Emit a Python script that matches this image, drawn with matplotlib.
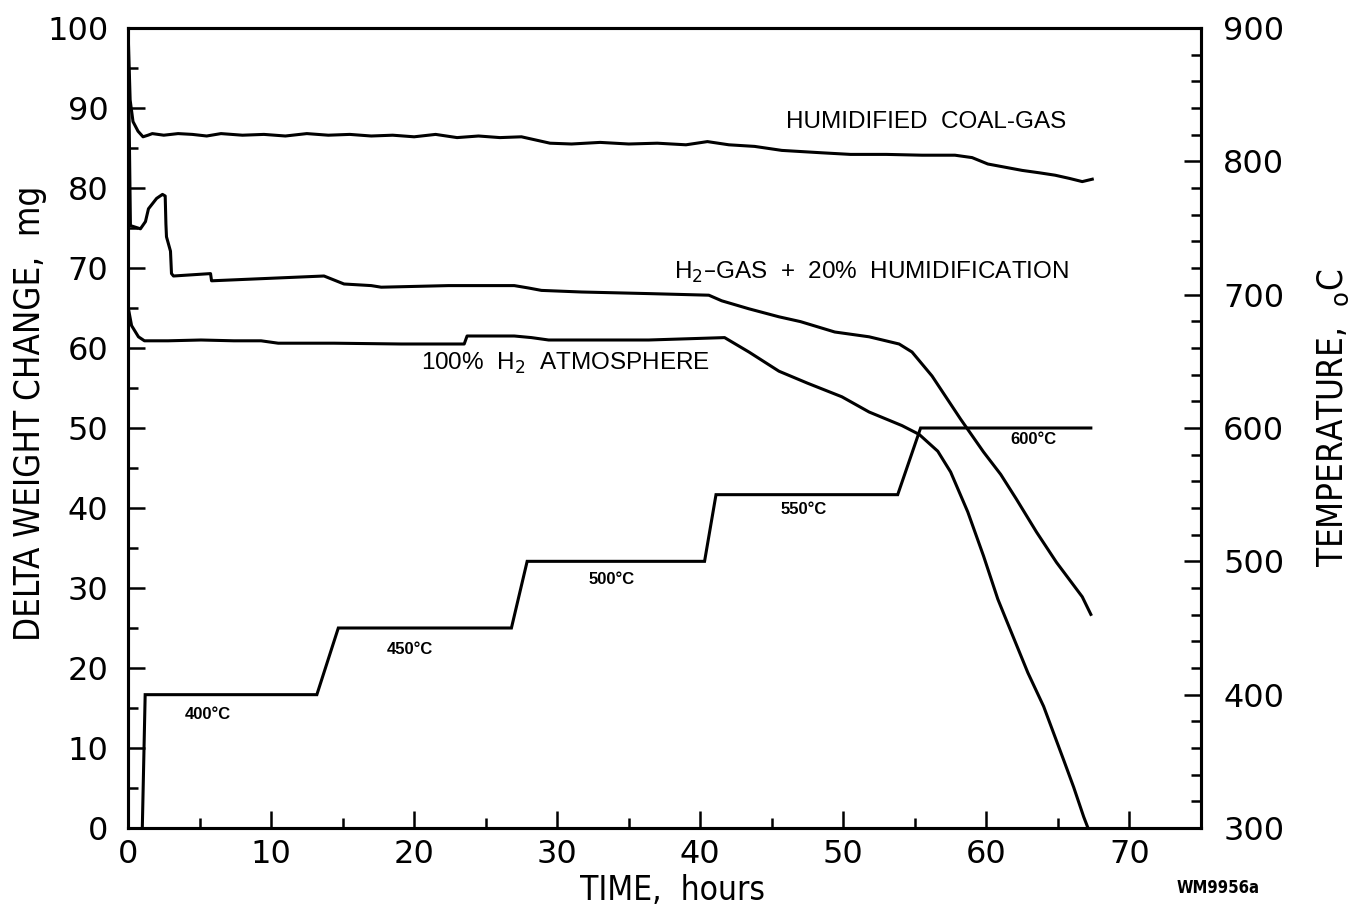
import matplotlib
matplotlib.use("Agg")
import matplotlib.pyplot as plt
from matplotlib import font_manager
from matplotlib.ticker import MultipleLocator

# ---- data -------------------------------------------------------------
# Humidified coal-gas weight change (mg) vs time (h)
coal_t = [0, 0.15, 0.35, 0.7, 1.05, 1.4, 1.7, 2.5, 3.5, 4.5, 5.5, 6.5, 8, 9.5,
          11, 12.5, 14, 15.5, 17, 18.5, 20, 21.5, 23, 24.5, 26, 27.5, 28.5,
          29.5, 31, 33, 35, 37, 39, 40.5, 42, 43.8, 45.7, 48.5, 50.5, 53,
          55.5, 57.8, 59, 60.1, 61.3, 62.5, 63.7, 64.8, 65.8, 66.7, 67.4]
coal_w = [100, 91, 88.3, 87.1, 86.4, 86.6, 86.8, 86.6, 86.8, 86.7, 86.5, 86.8,
          86.6, 86.7, 86.5, 86.8, 86.6, 86.7, 86.5, 86.6, 86.4, 86.7, 86.3,
          86.5, 86.3, 86.4, 86.0, 85.6, 85.5, 85.7, 85.5, 85.6, 85.4, 85.8,
          85.4, 85.2, 84.7, 84.4, 84.2, 84.2, 84.1, 84.1, 83.8, 83.0, 82.6,
          82.2, 81.9, 81.6, 81.2, 80.8, 81.1]

# H2 gas + 20% humidification
hum_t = [0, 0.17, 0.52, 0.87, 1.22, 1.43, 2.0, 2.41, 2.6, 2.65, 2.69, 2.97,
         3.04, 3.18, 5.77, 5.84, 13.7, 15.1, 17.0, 17.7, 22.4, 27.0, 28.0,
         28.9, 31.7, 36.4, 40.6, 41.5, 43.4, 45.5, 47.0, 49.4, 51.8, 53.9,
         54.8, 56.2, 58.2, 59.8, 61.0, 62.1, 63.5, 64.9, 66.7, 67.3]
hum_w = [100, 75.3, 75.1, 74.9, 75.8, 77.4, 78.7, 79.2, 79.0, 75.5, 73.9,
         72.1, 69.3, 69.0, 69.3, 68.4, 69.0, 68.0, 67.8, 67.6, 67.8, 67.8,
         67.5, 67.2, 67.0, 66.8, 66.6, 65.9, 64.9, 63.9, 63.3, 62.0, 61.4,
         60.5, 59.5, 56.5, 51.1, 47.0, 44.2, 41.1, 37.0, 33.2, 28.9, 26.7]

# 100% H2 atmosphere
h2_t = [0, 0.03, 0.25, 0.73, 1.15, 2.8, 5.1, 7.4, 9.3, 10.5, 14.4, 19.1,
        23.5, 23.7, 27.0, 28.2, 29.4, 36.4, 41.7, 43.4, 45.5, 47.5, 49.9,
        51.8, 54.1, 55.3, 56.6, 57.5, 58.7, 59.8, 60.8, 61.3, 62.9, 64.0,
        65.4, 66.1, 66.8, 67.1]
h2_w = [100, 64.9, 62.8, 61.4, 60.9, 60.9, 61.0, 60.9, 60.9, 60.6, 60.6,
        60.5, 60.5, 61.5, 61.5, 61.3, 61.0, 61.0, 61.3, 59.5, 57.1, 55.6,
        53.9, 52.0, 50.3, 49.2, 47.1, 44.5, 39.5, 34.0, 28.6, 26.4, 19.4,
        15.2, 8.5, 5.1, 1.4, 0.0]

# Furnace temperature programme (deg C)
temp_t = [1.0, 1.2, 13.2, 14.7, 26.8, 27.9, 40.3, 41.1, 53.8, 55.4, 67.3]
temp_c = [300, 400, 400, 450, 450, 500, 500, 550, 550, 600, 600]

step_labels = ["400°C", "450°C", "500°C", "550°C", "600°C"]
step_label_xy = [(5.6, 14.2), (19.7, 22.3), (33.8, 31.1), (47.2, 39.8), (63.3, 48.6)]

curve_labels = ["HUMIDIFIED  COAL-GAS",
                "H$_2$–GAS  +  20%  HUMIDIFICATION",
                "100%  H$_2$  ATMOSPHERE"]
curve_label_xy = [(55.8, 88.2), (52.0, 69.5), (30.6, 58.1)]

# ---- fonts ------------------------------------------------------------
available = {f.name for f in font_manager.fontManager.ttflist}
has_condensed = any(f.name == "DejaVu Sans" and "ondensed" in f.fname
                    for f in font_manager.fontManager.ttflist)
if "Liberation Sans Narrow" in available:
    narrow = dict(family="Liberation Sans Narrow")
elif has_condensed:
    narrow = dict(family="DejaVu Sans", fontstretch="condensed")
else:
    narrow = dict(family="DejaVu Sans")
sans = "Liberation Sans" if "Liberation Sans" in available else "DejaVu Sans"

# ---- figure -----------------------------------------------------------
fig = plt.figure(figsize=(13.51, 9.14), dpi=100)
ax = fig.add_axes([128 / 1351, 1 - 828 / 914, (1201 - 128) / 1351, (828 - 28) / 914])
ax2 = ax.twinx()

lw = 2.2
ax.plot(coal_t, coal_w, color="black", lw=lw, solid_joinstyle="round")
ax.plot(hum_t, hum_w, color="black", lw=lw, solid_joinstyle="round")
ax.plot(h2_t, h2_w, color="black", lw=lw, solid_joinstyle="round")
ax2.plot(temp_t, temp_c, color="black", lw=lw, solid_joinstyle="miter")

ax.set_xlim(0, 75)
ax.set_ylim(0, 100)
ax2.set_ylim(300, 900)

for a in (ax, ax2):
    for s in a.spines.values():
        s.set_linewidth(2.2)

ax.xaxis.set_major_locator(MultipleLocator(10))
ax.xaxis.set_minor_locator(MultipleLocator(5))
ax.yaxis.set_major_locator(MultipleLocator(10))
ax.yaxis.set_minor_locator(MultipleLocator(5))
ax2.yaxis.set_major_locator(MultipleLocator(100))
ax2.yaxis.set_minor_locator(MultipleLocator(20))

tick_font = 23
ax.tick_params(axis="both", which="major", direction="in", length=12, width=1.8,
               labelsize=tick_font, top=False, right=False)
ax.tick_params(axis="both", which="minor", direction="in", length=7, width=1.8,
               top=False, right=False)
ax.tick_params(axis="y", which="major", pad=14)
ax.tick_params(axis="x", which="major", pad=8)
ax2.tick_params(axis="y", which="major", direction="in", length=12, width=1.8,
                labelsize=tick_font, pad=16)
ax2.tick_params(axis="y", which="minor", direction="in", length=7, width=1.8)

# ---- annotations ------------------------------------------------------
for txt, (x, y) in zip(curve_labels, curve_label_xy):
    ax.text(x, y, txt, fontsize=17.5, family=sans, ha="center", va="center")

for txt, (x, y) in zip(step_labels, step_label_xy):
    ax.text(x, y, txt, fontsize=12, family=sans, fontweight="bold",
            ha="center", va="center")

fig.text(672 / 1351, 1 - 891 / 914, "TIME,  hours", fontsize=24,
         ha="center", va="center", **narrow)
fig.text(30 / 1351, 1 - 413 / 914, "DELTA WEIGHT CHANGE,  mg", fontsize=25,
         rotation=90, ha="center", va="center", **narrow)
fig.text(1333 / 1351, 1 - 418 / 914, r"TEMPERATURE,  $_{\rm o}$C", fontsize=25,
         rotation=90, ha="center", va="center", **narrow)
fig.text(1218 / 1351, 1 - 888 / 914, "WM9956a", fontsize=12,
         fontweight="bold", ha="center", va="center", **narrow)

fig.savefig("out.png", dpi=100, facecolor="white")
